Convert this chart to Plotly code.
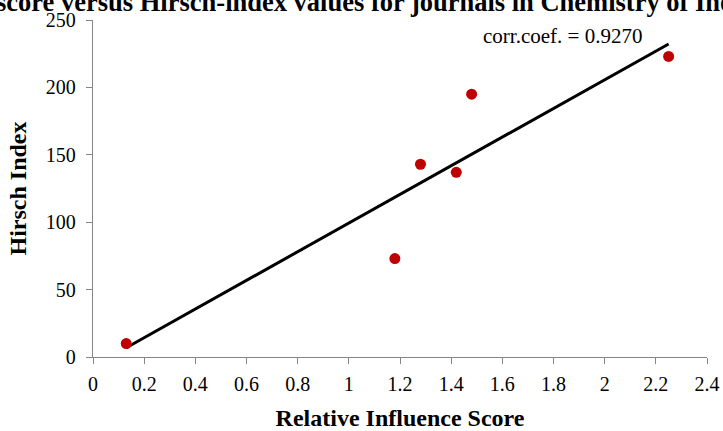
import numpy as np
import plotly.graph_objects as go

# Data
ris = [0.13, 1.18, 1.28, 1.42, 1.48, 2.25]          # Relative Influence Score
hindex = [10, 73, 143, 137, 195, 223]               # Hirsch Index
x_ticks = [0, 0.2, 0.4, 0.6, 0.8, 1, 1.2, 1.4, 1.6, 1.8, 2, 2.2, 2.4]
y_ticks = [0, 50, 100, 150, 200, 250]
title_text = "score versus Hirsch-index values for journals in Chemistry of Inorganic"
corr_text = "corr.coef. = 0.9270"

# Linear trendline (least squares) from the data
slope, intercept = np.polyfit(ris, hindex, 1)
fit_x = [min(ris), max(ris)]
fit_y = [slope * v + intercept for v in fit_x]

FONT = "Times New Roman, Liberation Serif, serif"
AXIS_COLOR = "#868686"

fig = go.Figure()
fig.add_trace(go.Scatter(
    x=fit_x, y=fit_y, mode="lines",
    line=dict(color="black", width=3),
    showlegend=False, hoverinfo="skip",
))
fig.add_trace(go.Scatter(
    x=ris, y=hindex, mode="markers",
    marker=dict(color="#C00000", size=11, line=dict(width=0)),
    showlegend=False,
))

fig.update_layout(
    width=723, height=431,
    margin=dict(l=93, r=16, t=20, b=74, autoexpand=False),
    paper_bgcolor="white", plot_bgcolor="white",
    font=dict(family=FONT, color="black", size=20),
    showlegend=False,
    xaxis=dict(
        range=[0, 2.4], tickmode="array", tickvals=x_ticks,
        ticktext=[f"{v:g}" for v in x_ticks],
        automargin=False,
        showgrid=False, zeroline=False,
        showline=True, linecolor=AXIS_COLOR, linewidth=1.3,
        ticks="outside", ticklen=6, tickcolor=AXIS_COLOR, tickwidth=1.3,
        ticklabelstandoff=3,
        tickfont=dict(family=FONT, size=20, color="black"),
        title=dict(text="<b>Relative Influence Score</b>",
                   font=dict(family=FONT, size=24, color="black"),
                   standoff=18),
    ),
    yaxis=dict(
        range=[0, 250], tickmode="array", tickvals=y_ticks,
        automargin=False,
        showgrid=False, zeroline=False,
        showline=True, linecolor=AXIS_COLOR, linewidth=1.3,
        ticks="outside", ticklen=6, tickcolor=AXIS_COLOR, tickwidth=1.3,
        ticklabelstandoff=6,
        tickfont=dict(family=FONT, size=20, color="black"),
        title=dict(text="<b>Hirsch Index</b>",
                   font=dict(family=FONT, size=24, color="black"),
                   standoff=12),
    ),
    annotations=[
        dict(text=corr_text, xref="paper", yref="paper",
             x=(481 - 93) / 614, y=1.0, xanchor="left", yanchor="bottom",
             yshift=-30, showarrow=False,
             font=dict(family=FONT, size=21, color="black")),
        dict(text="<b>" + title_text + "</b>", xref="paper", yref="paper",
             x=-93 / 614, y=1.0, xanchor="left", yanchor="bottom",
             xshift=-6, yshift=1, showarrow=False,
             font=dict(family=FONT, size=26.5, color="black")),
    ],
)

fig.write_html("out.html")
